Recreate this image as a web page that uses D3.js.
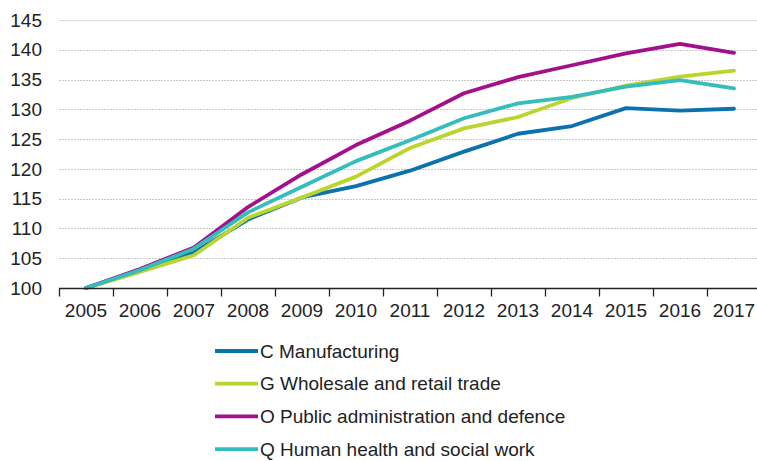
<!DOCTYPE html>
<html>
<head>
	<title>Index 2005 = 100</title>
	<script src="https://d3js.org/d3.v7.min.js"></script>
</head>
<body>

<svg class="chart"></svg>

<style type="text/css">
	body {
		margin: 0;
		background: #fff;
	}

	.chart {
		display: block;
		width: 757px;
		height: 461px;
		font-family: "Liberation Sans", Arial, sans-serif;
	}

	.chart text {
		fill: #222;
		font-size: 19px;
	}

	.chart .grid line {
		stroke: #c8c8c8;
		stroke-dasharray: 2 1;
	}

	.chart .grid .top line {
		stroke: #dcdcdc;
		stroke-dasharray: none;
	}

	.chart .series {
		fill: none;
		stroke-width: 3.8px;
		stroke-linejoin: round;
		stroke-linecap: round;
	}
</style>

<script type="text/javascript">
	(function() {
		'use strict'

		var years = ['2005', '2006', '2007', '2008', '2009', '2010', '2011', '2012', '2013', '2014', '2015', '2016', '2017']
		var yTicks = [100, 105, 110, 115, 120, 125, 130, 135, 140, 145]

		var names = [
			'C Manufacturing',
			'G Wholesale and retail trade',
			'O Public administration and defence',
			'Q Human health and social work'
		]
		var colors = ['#0a72ad', '#bcd52e', '#a3108b', '#35bdbb']

		var manufacturing = [100, 102.9, 106.0, 111.5, 115.2, 117.1, 119.7, 122.9, 125.9, 127.2, 130.2, 129.8, 130.1]
		var trade = [100, 102.7, 105.5, 111.8, 115.2, 118.7, 123.5, 126.8, 128.7, 131.9, 134.0, 135.5, 136.5]
		var publicAdmin = [100, 103.2, 106.8, 113.6, 119.1, 124.0, 128.1, 132.7, 135.4, 137.4, 139.4, 141.0, 139.5]
		var health = [100, 103.0, 106.6, 112.7, 117.0, 121.3, 124.8, 128.5, 131.0, 132.1, 133.8, 134.9, 133.5]

		var series = [manufacturing, trade, publicAdmin, health]

		var svg = d3.select('.chart')
			.attr('viewBox', [0, 0, 757, 461])

		var x = d3.scaleBand()
			.domain(years)
			.range([59, 761])

		var y = d3.scaleLinear()
			.domain([100, 145])
			.range([288, 20])

		// grid
		var grid = svg.append('g')
			.attr('class', 'grid')
			.selectAll('g')
			.data(yTicks.slice(1))
			.enter()
			.append('g')
			.attr('class', function(d) { return d === 145 ? 'top' : null })

		grid.append('line')
			.attr('x1', 59)
			.attr('x2', 757)
			.attr('y1', function(d) { return Math.round(y(d)) + 0.5 })
			.attr('y2', function(d) { return Math.round(y(d)) + 0.5 })

		// y labels
		svg.append('g')
			.selectAll('text')
			.data(yTicks)
			.enter()
			.append('text')
			.attr('x', 42)
			.attr('y', function(d) { return y(d) })
			.attr('dy', '0.35em')
			.attr('text-anchor', 'end')
			.text(function(d) { return d })

		// lines
		var line = d3.line()
			.x(function(d, i) { return x(years[i]) + x.bandwidth() / 2 })
			.y(function(d) { return y(d) })

		svg.append('g')
			.selectAll('path')
			.data(series)
			.enter()
			.append('path')
			.attr('class', 'series')
			.attr('stroke', function(d, i) { return colors[i] })
			.attr('d', line)

		// x axis
		var xAxis = svg.append('g')
			.attr('transform', 'translate(0,' + (Math.round(y(100)) + 0.5) + ')')

		xAxis.append('line')
			.attr('x1', 59)
			.attr('x2', 757)
			.attr('stroke', '#222')
			.attr('stroke-width', 1.3)

		xAxis.selectAll('.tick')
			.data(years)
			.enter()
			.append('line')
			.attr('x1', function(d) { return Math.round(x(d)) + 0.5 })
			.attr('x2', function(d) { return Math.round(x(d)) + 0.5 })
			.attr('y1', 0)
			.attr('y2', 8)
			.attr('stroke', '#222')
			.attr('stroke-width', 1.3)

		xAxis.selectAll('text')
			.data(years)
			.enter()
			.append('text')
			.attr('x', function(d) { return x(d) + x.bandwidth() / 2 })
			.attr('y', 22)
			.attr('dy', '0.35em')
			.attr('text-anchor', 'middle')
			.text(function(d) { return d })

		// legend
		var legend = svg.append('g')
			.selectAll('g')
			.data(names)
			.enter()
			.append('g')
			.attr('transform', function(d, i) { return 'translate(215,' + (351 + i * 32.7) + ')' })

		legend.append('line')
			.attr('x1', 0)
			.attr('x2', 43)
			.attr('stroke', function(d, i) { return colors[i] })
			.attr('stroke-width', 3.8)

		legend.append('text')
			.attr('x', 45)
			.attr('dy', '0.35em')
			.text(function(d) { return d })

	})()
</script>
</body>
</html>
